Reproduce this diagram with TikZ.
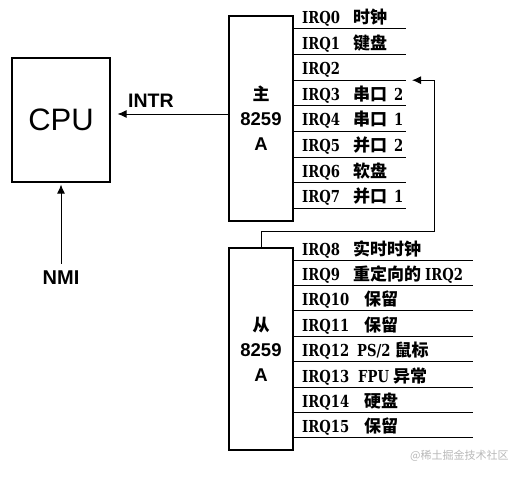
\documentclass[tikz,border=0pt]{standalone}
\usepackage{fontspec}
\setmainfont{Liberation Sans}
\newfontfamily\irqfont{DejaVu Serif}[FakeStretch=0.8]
\newfontfamily\cjkfont{Noto Sans CJK SC}
\usetikzlibrary{arrows.meta}
\newcommand\zh[1]{{\cjkfont\bfseries\fontsize{17}{18}\selectfont #1}}
\tikzset{
	chip/.style={draw, line width=1.1pt, minimum width=64pt, inner sep=0pt, align=center, font=\bfseries\fontsize{18.5}{25}\selectfont},
	irq/.style={anchor=base west, inner sep=0pt, font=\irqfont\bfseries\fontsize{16.5}{18}\selectfont},
	sig/.style={-{Latex[length=9pt,width=8pt]}, line width=1pt},
}
\begin{document}
\begin{tikzpicture}[x=1pt,y=-1pt]
	\useasboundingbox (0,0) rectangle (521,476);
	%
	\def\pitch{25.6}
	\def\slavepitch{25.4}
	\def\masterend{406}
	\def\slaveend{473}
	% boxes
		\node[draw, line width=1.1pt, minimum width=98pt, minimum height=124pt, font=\fontsize{31}{31}\selectfont] (cpu) at (61,120) {CPU};
		\node[chip, minimum height=205pt] (master) at (261,118.5) {\zh{主}\\8259\\A};
		\node[chip, minimum height=202pt] (slave) at (261,349) {\zh{从}\\8259\\A};
	% signals to the cpu
		\node[anchor=base west, inner sep=0pt, font=\bfseries\fontsize{19.5}{20}\selectfont] (intr) at (128,107) {INTR};
		\draw[sig, shorten >=7pt] (master.west |- 0,114) -- (cpu.east |- 0,114);
		\node[font=\bfseries\fontsize{20}{20}\selectfont] (nmi) at (61,278) {NMI};
		\draw[sig, shorten <=4pt, shorten >=2pt] (nmi) -- (cpu.south);
	% master lines
		\foreach \name/\dx/\desc [count=\i from 0] in {IRQ0/353/{\zh{时钟}},IRQ1/353/{\zh{键盘}},IRQ2/353/{},IRQ3/353/{\zh{串口}\hspace{7pt}2},IRQ4/353/{\zh{串口}\hspace{7pt}1},IRQ5/353/{\zh{并口}\hspace{7pt}2},IRQ6/353/{\zh{软盘}},IRQ7/353/{\zh{并口}\hspace{7pt}1}}
		{
			\pgfmathsetmacro\ly{29+\i*\pitch}
			\draw[line width=1pt] (master.east |- 0,\ly) -- (\masterend,\ly);
			\node[irq] (m\i) at (302,\ly-5.5) {\name};
			\node[irq] (md\i) at (\dx,\ly-5.5) {\desc};
		}
	% slave lines
		\foreach \name/\dx/\desc [count=\i from 8] in {IRQ8/353/{\zh{实时时钟}},IRQ9/353/{\zh{重定向的}\hspace{4pt}IRQ2},IRQ10/364/{\zh{保留}},IRQ11/364/{\zh{保留}},IRQ12/357/{PS/2\hspace{4pt}\zh{鼠标}},IRQ13/358/{FPU\hspace{4pt}\zh{异常}},IRQ14/364/{\zh{硬盘}},IRQ15/364/{\zh{保留}}}
		{
			\pgfmathsetmacro\ly{260+(\i-8)*\slavepitch}
			\draw[line width=1pt] (slave.east |- 0,\ly) -- (\slaveend,\ly);
			\node[irq] (s\i) at (302,\ly-5) {\name};
			\node[irq] (sd\i) at (\dx,\ly-5) {\desc};
		}
	% cascade into irq2
		\coordinate (casc) at (412,80.2);
		\draw[sig] (slave.north) |- (434,231) |- (casc);
	% watermark
		\node[anchor=west, inner sep=0pt, text=black!28, font=\cjkfont\fontsize{11}{11}\selectfont] (mark) at (410,456) {@稀土掘金技术社区};
\end{tikzpicture}
\end{document}
